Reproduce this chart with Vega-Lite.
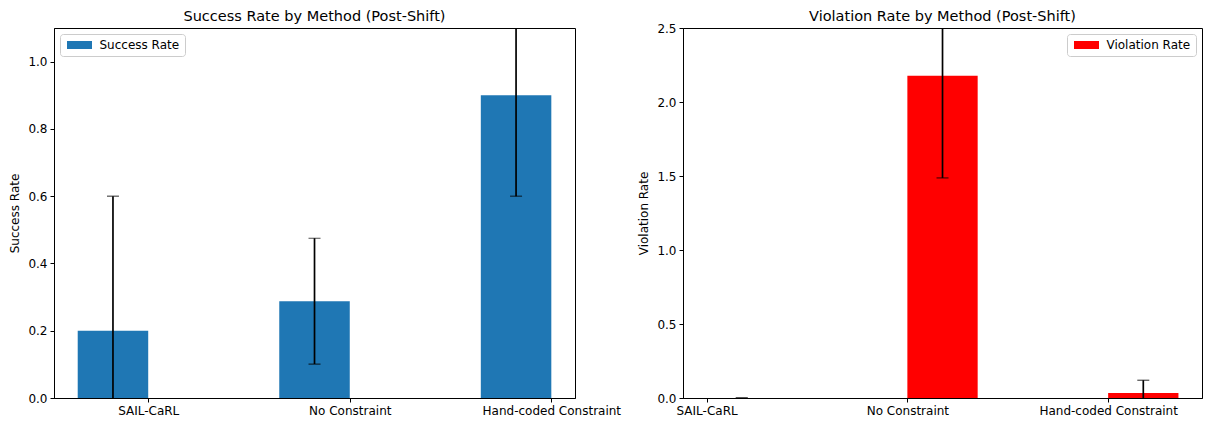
{
  "$schema": "https://vega.github.io/schema/vega-lite/v6.json",
  "padding": {"left": 8, "top": 8, "right": 4, "bottom": 5},
  "bounds": "flush",
  "spacing": 108,
  "config": {
    "font": "DejaVu Sans",
    "view": {"stroke": "black", "strokeWidth": 1},
    "axis": {"domainColor": "black", "tickColor": "black", "labelColor": "black", "titleColor": "black", "labelFont": "DejaVu Sans", "titleFont": "DejaVu Sans", "labelFontSize": 12, "titleFontSize": 12, "titleFontWeight": "normal", "grid": false, "tickSize": 4, "labelPadding": 3, "domainWidth": 1, "tickWidth": 1, "titlePadding": 6},
    "title": {"fontSize": 14.5, "fontWeight": "normal", "font": "DejaVu Sans", "color": "black", "offset": 4},
    "legend": {"labelFont": "DejaVu Sans", "labelFontSize": 12, "labelColor": "black", "symbolType": "M-3.125,-1L3.125,-1L3.125,1L-3.125,1Z", "symbolSize": 64, "symbolOffset": 8.5, "symbolStrokeWidth": 0, "symbolOpacity": 1, "strokeColor": "#cccccc", "fillColor": "white", "cornerRadius": 3, "padding": 5, "offset": 6, "labelOffset": 14}
  },
  "resolve": {"scale": {"color": "independent"}, "legend": {"color": "independent"}},
  "hconcat": [
    {
      "width": 521, "height": 370,
      "title": "Success Rate by Method (Post-Shift)",
      "data": {"values": [
        {"method": "SAIL-CaRL", "value": 0.2, "lo": -0.2, "hi": 0.6},
        {"method": "No Constraint", "value": 0.288, "lo": 0.101, "hi": 0.475},
        {"method": "Hand-coded Constraint", "value": 0.9, "lo": 0.6, "hi": 1.2}
      ]},
      "encoding": {"x": {"field": "method", "type": "nominal", "sort": null, "scale": {"type": "point", "domain": ["SAIL-CaRL", "No Constraint", "Hand-coded Constraint"], "padding": 0.2925, "align": 0.7991}, "axis": {"title": null, "labelAngle": 0}}},
      "layer": [
        {"mark": {"type": "bar", "width": 70.5, "xOffset": -35.25, "clip": true},
         "encoding": {"y": {"field": "value", "type": "quantitative", "title": "Success Rate", "scale": {"domain": [0, 1.1], "nice": false, "zero": false}, "axis": {"values": [0, 0.2, 0.4, 0.6, 0.8, 1.0], "format": ".1f"}},
           "color": {"datum": "Success Rate", "scale": {"range": ["#1f77b4"]}, "legend": {"title": null, "orient": "top-left"}}}},
        {"mark": {"type": "rule", "xOffset": -35.25, "clip": true, "color": "black", "strokeWidth": 1.7},
         "encoding": {"y": {"field": "lo", "type": "quantitative", "title": "Success Rate"}, "y2": {"field": "hi"}}},
        {"mark": {"type": "tick", "xOffset": -35.25, "clip": true, "color": "black", "size": 12, "thickness": 1.2},
         "encoding": {"y": {"field": "lo", "type": "quantitative", "title": "Success Rate"}}},
        {"mark": {"type": "tick", "xOffset": -35.25, "clip": true, "color": "black", "size": 12, "thickness": 1.2},
         "encoding": {"y": {"field": "hi", "type": "quantitative", "title": "Success Rate"}}}
      ]
    },
    {
      "width": 519, "height": 370,
      "title": {"text": "Violation Rate by Method (Post-Shift)", "offset": -2},
      "data": {"values": [
        {"method": "SAIL-CaRL", "value": 0.0, "lo": 0.0, "hi": 0.0},
        {"method": "No Constraint", "value": 2.177, "lo": 1.487, "hi": 2.867},
        {"method": "Hand-coded Constraint", "value": 0.033, "lo": -0.054, "hi": 0.12}
      ]},
      "encoding": {"x": {"field": "method", "type": "nominal", "sort": null, "scale": {"type": "point", "domain": ["SAIL-CaRL", "No Constraint", "Hand-coded Constraint"], "padding": 0.2925, "align": 0.2009}, "axis": {"title": null, "labelAngle": 0}}},
      "layer": [
        {"mark": {"type": "bar", "width": 70.3, "xOffset": 35.15, "clip": true},
         "encoding": {"y": {"field": "value", "type": "quantitative", "title": "Violation Rate", "scale": {"domain": [0, 2.5], "nice": false, "zero": false}, "axis": {"values": [0, 0.5, 1.0, 1.5, 2.0, 2.5], "format": ".1f"}},
           "color": {"datum": "Violation Rate", "scale": {"range": ["#ff0000"]}, "legend": {"title": null, "orient": "top-right"}}}},
        {"mark": {"type": "rule", "xOffset": 35.15, "clip": true, "color": "black", "strokeWidth": 1.7},
         "encoding": {"y": {"field": "lo", "type": "quantitative", "title": "Violation Rate"}, "y2": {"field": "hi"}}},
        {"mark": {"type": "tick", "xOffset": 35.15, "clip": true, "color": "black", "size": 12, "thickness": 1.2},
         "encoding": {"y": {"field": "lo", "type": "quantitative", "title": "Violation Rate"}}},
        {"mark": {"type": "tick", "xOffset": 35.15, "clip": true, "color": "black", "size": 12, "thickness": 1.2},
         "encoding": {"y": {"field": "hi", "type": "quantitative", "title": "Violation Rate"}}}
      ]
    }
  ]
}
